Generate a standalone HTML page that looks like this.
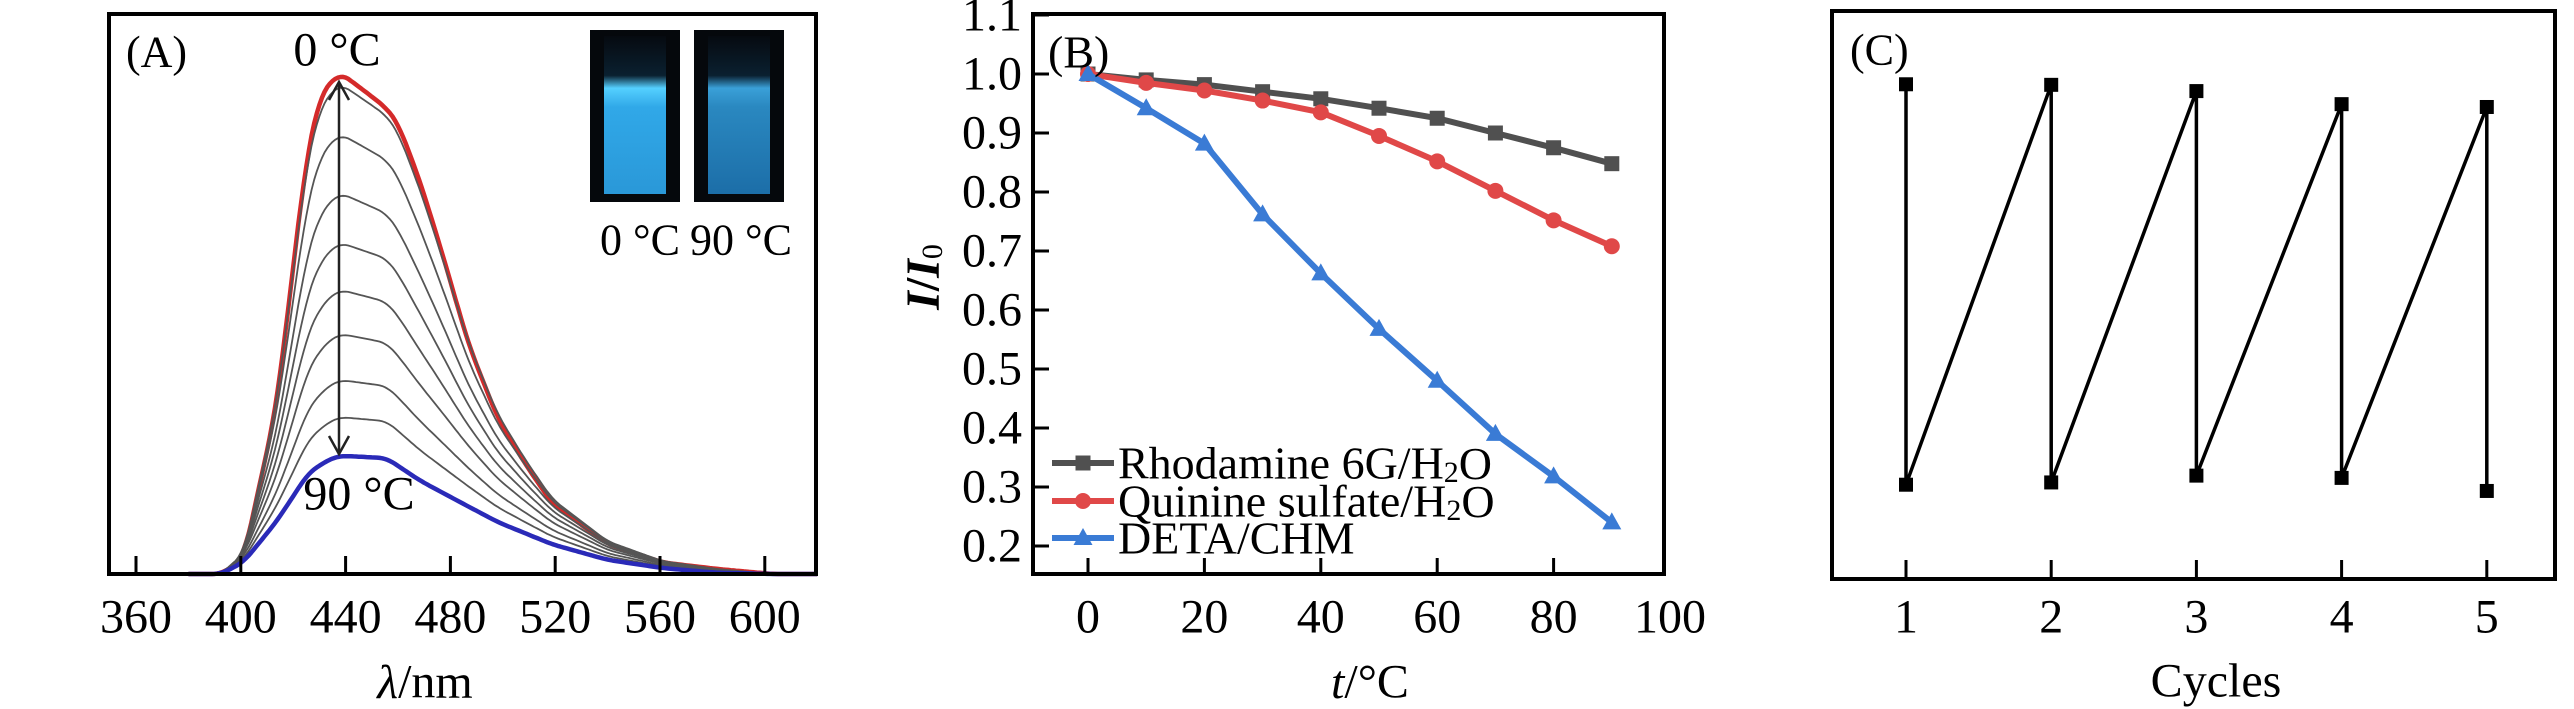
<!DOCTYPE html>
<html><head><meta charset="utf-8"><style>
body{margin:0;background:#fff}
svg{display:block}
text{font-family:"Liberation Serif",serif;fill:#000}
</style></head><body>
<svg id="fig" width="2574" height="709" viewBox="0 0 2574 709"></svg>
<script>
// ---- Panel A data ----
const aTicks=[360,400,440,480,520,560,600];
const aTemps=[0,10,20,30,40,50,60,70,80,90];
const aPeaks=[1.0,0.978,0.878,0.760,0.661,0.567,0.479,0.387,0.313,0.236];
const aRedWl=[380,392.5,401,413.5,425,430.5,438,447,455.6,460,468.4,476.9,487,497.9,508.5,519,540,561,582,603,620];
const aRedI=[0,0,0.03,0.33,0.83,0.96,1.0,0.965,0.93,0.90,0.784,0.64,0.457,0.313,0.22,0.14,0.06,0.023,0.01,0,0];
const aBlueWl=[380,392.5,401,413.5,426,434.6,438.5,455.6,468.4,481,498,519,540,561,582,603,620];
const aBlueI=[0,0,0.1,0.44,0.86,0.98,1.0,0.98,0.79,0.64,0.44,0.25,0.12,0.05,0.01,0,0];
// ---- Panel B data ----
const bTemps=[0,10,20,30,40,50,60,70,80,90];
const bXTicks=[0,20,40,60,80,100];
const bYTicks=[0.2,0.3,0.4,0.5,0.6,0.7,0.8,0.9,1.0,1.1];
const bRhod=[1.0,0.99,0.982,0.97,0.958,0.942,0.925,0.90,0.875,0.848];
const bQuin=[1.0,0.985,0.972,0.955,0.935,0.895,0.852,0.802,0.752,0.708];
const bDeta=[1.0,0.942,0.882,0.762,0.662,0.568,0.48,0.39,0.318,0.24];
// ---- Panel C data ----
const cCycles=[1,2,3,4,5];
const cHigh=[0.871,0.870,0.859,0.836,0.831];
const cLow=[0.166,0.170,0.182,0.178,0.155];

const NS="http://www.w3.org/2000/svg";
const svg=document.getElementById('fig');
function mk(tag,attrs,parent){const e=document.createElementNS(NS,tag);for(const k in attrs)e.setAttribute(k,attrs[k]);(parent||svg).appendChild(e);return e;}
function txt(s,x,y,size,anchor,parent){const t=mk('text',{x:x,y:y,'font-size':size,'text-anchor':anchor||'middle','dominant-baseline':'central'},parent);t.textContent=s;return t;}
function interp(xs,ys,x){if(x<=xs[0])return ys[0];for(let i=1;i<xs.length;i++){if(x<=xs[i]){const f=(x-xs[i-1])/(xs[i]-xs[i-1]);return ys[i-1]+f*(ys[i]-ys[i-1]);}}return ys[ys.length-1];}
function smooth(arr,k){return arr.map((v,i)=>{let s=0,n=0;for(let j=-k;j<=k;j++){const a=arr[i+j];if(a!==undefined){s+=a;n++;}}return s/n;});}
const FS=48;

// ===== Panel A =====
const gA=mk('g',{});


const axA={x0:109,x1:816,y0:14,y1:574};
const xA=l=>136+(l-360)*2.62;
const yA=v=>axA.y1-v*501;
[[590,'0 °C'],[694,'90 °C']].forEach((p,i)=>{
  const defs=mk('defs',{},gA);
  const lg=mk('linearGradient',{id:'cg'+i,x1:0,y1:0,x2:0,y2:1},defs);
  mk('stop',{offset:'0','stop-color':'#060a10'},lg);
  mk('stop',{offset:'0.25','stop-color':'#0a2030'},lg);
  mk('stop',{offset:'0.33','stop-color':i?'#3aa0d8':'#55d0ff'},lg);
  mk('stop',{offset:'0.45','stop-color':i?'#2a88c0':'#30a8e8'},lg);
  mk('stop',{offset:'1','stop-color':i?'#1c6ea8':'#2a98d8'},lg);
  const r=mk('rect',{x:p[0],y:30,width:90,height:172,fill:'#05080c'},gA);
  
  
  mk('rect',{x:p[0]+14,y:36,width:62,height:158,fill:'url(#cg'+i+')'},gA);
});
let t;
t=txt('0 °C',640,240,44,'middle',gA);
t=txt('90 °C',741,240,44,'middle',gA);
aTemps.forEach((T,i)=>{
  const w=i/(aTemps.length-1);
  const ls=[],vs=[];
  for(let l=380;l<=620;l+=1){
    ls.push(l);
    vs.push(aPeaks[i]*((1-w)*interp(aRedWl,aRedI,l)+w*interp(aBlueWl,aBlueI,l)));
  }
  const sv=smooth(vs,3);
  let d='';
  ls.forEach((l,k)=>{d+=(d?'L':'M')+xA(l).toFixed(1)+','+yA(sv[k]).toFixed(1);});
  const col=i===0?'#d42a2a':(i===aTemps.length-1?'#2a2ab8':'#555');
  const p=mk('path',{d:d,fill:'none',stroke:col,'stroke-width':(i===0||i===aTemps.length-1)?4.5:1.8,'stroke-linejoin':'round'},gA);
  
  
});
const fA=mk('rect',{x:axA.x0,y:axA.y0,width:axA.x1-axA.x0,height:axA.y1-axA.y0,fill:'none',stroke:'#000','stroke-width':4},gA);


aTicks.forEach(v=>{
  mk('line',{x1:xA(v),x2:xA(v),y1:axA.y1,y2:axA.y1-18,stroke:'#000','stroke-width':3},gA);
  const t=txt(v,xA(v),617,FS,'middle',gA);
  
  
});
const arr=mk('g',{},gA);


mk('line',{x1:339,x2:339,y1:82,y2:454,stroke:'#222','stroke-width':2.5},arr);
mk('path',{d:'M329,100 L339,82 L349,100 M329,436 L339,454 L349,436',fill:'none',stroke:'#222','stroke-width':2.5},arr);
t=txt('0 °C',337,50,FS,'middle',gA);
t=txt('90 °C',359,494,FS,'middle',gA);
t=txt('(A)',126,52,44,'start',gA);
t=mk('text',{x:425,y:682,'font-size':FS,'text-anchor':'middle','dominant-baseline':'central'},gA);
t.innerHTML='<tspan font-style="italic">λ</tspan>/nm';


// ===== Panel B =====
const gB=mk('g',{});


const axB={x0:1033,x1:1664,y0:14,y1:574};
const xB=v=>1088+v*5.82;
const yB=v=>546-(v-0.2)*590;
const fB=mk('rect',{x:axB.x0,y:axB.y0,width:axB.x1-axB.x0,height:axB.y1-axB.y0,fill:'none',stroke:'#000','stroke-width':4},gB);


bXTicks.forEach(v=>{
  if(v<100)mk('line',{x1:xB(v),x2:xB(v),y1:axB.y1,y2:axB.y1-16,stroke:'#000','stroke-width':3},gB);
  const t=txt(v,xB(v),617,FS,'middle',gB);
  
  
});
bYTicks.forEach(v=>{
  mk('line',{x1:axB.x0,x2:axB.x0+16,y1:yB(v),y2:yB(v),stroke:'#000','stroke-width':3},gB);
  const t=txt(v.toFixed(1),1022,yB(v),FS,'end',gB);
  
  
});
function marker(kind,x,y,col,parent){
  if(kind==='sq')return mk('rect',{x:x-7.5,y:y-7.5,width:15,height:15,fill:col},parent);
  if(kind==='ci')return mk('circle',{cx:x,cy:y,r:8,fill:col},parent);
  return mk('path',{d:`M${x},${y-10}L${x+9.5},${y+7}L${x-9.5},${y+7}Z`,fill:col},parent);
}
const series=[[bRhod,'#505050','sq','rhodamine'],[bQuin,'#e04848','ci','quinine'],[bDeta,'#3a7bd5','tr','deta']];
series.forEach(s=>{
  const g=mk('g',{},gB);
  
  
  const pts=bTemps.map((T,i)=>xB(T).toFixed(1)+','+yB(s[0][i]).toFixed(1)).join(' ');
  mk('polyline',{points:pts,fill:'none',stroke:s[1],'stroke-width':6},g);
  bTemps.forEach((T,i)=>{
    const m=marker(s[2],xB(T),yB(s[0][i]),s[1],g);
    
    
  });
});
const legItems=[['Rhodamine 6G/H<tspan font-size="30" dy="9">2</tspan><tspan dy="-9">O</tspan>',463],['Quinine sulfate/H<tspan font-size="30" dy="9">2</tspan><tspan dy="-9">O</tspan>',501],['DETA/CHM',538]];
legItems.forEach((it,i)=>{
  const g=mk('g',{},gB);
  
  
  mk('line',{x1:1052,x2:1114,y1:it[1],y2:it[1],stroke:series[i][1],'stroke-width':6},g);
  marker(series[i][2],1083,it[1],series[i][1],g);
  const t=mk('text',{x:1118,y:it[1],'font-size':46,'dominant-baseline':'central'},g);
  t.innerHTML=it[0];
});
t=txt('(B)',1048,52,46,'start',gB);
t=mk('text',{x:1370,y:682,'font-size':FS,'text-anchor':'middle','dominant-baseline':'central'},gB);
t.innerHTML='<tspan font-style="italic">t</tspan>/°C';

t=mk('text',{x:0,y:0,'font-size':FS,'font-weight':'bold','text-anchor':'middle','dominant-baseline':'central',transform:'translate(923,277) rotate(-90)'},gB);
t.innerHTML='<tspan font-style="italic">I</tspan>/<tspan font-style="italic">I</tspan><tspan font-size="30" font-weight="normal" dy="9">0</tspan>';


// ===== Panel C =====
const gC=mk('g',{});


const axC={x0:1832,x1:2555,y0:11,y1:579};
const xC=c=>1906+(c-1)*145.2;
const yC=v=>axC.y1-v*568;
const fC=mk('rect',{x:axC.x0,y:axC.y0,width:axC.x1-axC.x0,height:axC.y1-axC.y0,fill:'none',stroke:'#000','stroke-width':4},gC);


let cpts=[];
cCycles.forEach((c,i)=>{cpts.push([xC(c),yC(cHigh[i])]);cpts.push([xC(c),yC(cLow[i])]);});
const cl=mk('polyline',{points:cpts.map(p=>p[0].toFixed(1)+','+p[1].toFixed(1)).join(' '),fill:'none',stroke:'#000','stroke-width':3.5},gC);


cCycles.forEach((c,i)=>{
  let m=mk('rect',{x:xC(c)-7,y:yC(cHigh[i])-7,width:14,height:14,fill:'#000'},gC);
  
  
  m=mk('rect',{x:xC(c)-7,y:yC(cLow[i])-7,width:14,height:14,fill:'#000'},gC);
  
  
  mk('line',{x1:xC(c),x2:xC(c),y1:axC.y1,y2:axC.y1-19,stroke:'#000','stroke-width':3},gC);
  const t=txt(c,xC(c),617,FS,'middle',gC);
  
  
});
t=txt('(C)',1850,50,44,'start',gC);
t=txt('Cycles',2216,681,FS,'middle',gC);
</script>
</body></html>
